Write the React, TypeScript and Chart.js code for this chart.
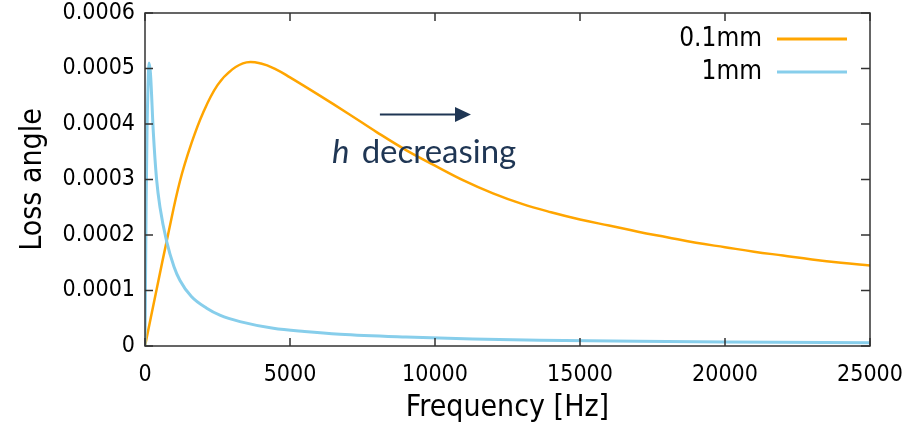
import { useEffect, useRef } from 'react';
import { Chart, registerables } from 'chart.js';

Chart.register(...registerables);

// ---- data ----
const seriesLabels = ['0.1mm', '1mm'];
const seriesColors = ['#FFA500', '#87CEEB'];

// 0.1mm
const freqThin = [0, 400, 800, 1200, 1600, 2000, 2500, 3000, 3500, 4000, 4500, 5000, 6000, 7000, 8000, 9000, 10000, 11000, 12000, 13000, 14000, 15000, 16000, 17000, 18000, 19000, 20000, 21000, 22000, 23000, 24000, 25000];
const lossThin = [0, 1.02e-4, 2.02e-4, 2.96e-4, 3.65e-4, 4.2e-4, 4.7e-4, 4.98e-4, 5.11e-4, 5.09e-4, 4.99e-4, 4.84e-4, 4.52e-4, 4.19e-4, 3.85e-4, 3.53e-4, 3.25e-4, 2.98e-4, 2.75e-4, 2.56e-4, 2.41e-4, 2.28e-4, 2.17e-4, 2.06e-4, 1.96e-4, 1.86e-4, 1.78e-4, 1.7e-4, 1.63e-4, 1.56e-4, 1.5e-4, 1.45e-4];

// 1mm
const freqThick = [0, 15, 40, 70, 100, 140, 190, 287, 400, 517, 748, 1000, 1207, 1600, 2128, 2600, 3276, 4425, 5500, 6724, 9000, 11300, 13600, 17000, 20000, 25000];
const lossThick = [0, 1.0e-4, 2.6e-4, 3.9e-4, 4.6e-4, 5.1e-4, 4.9e-4, 3.85e-4, 3.0e-4, 2.5e-4, 1.88e-4, 1.43e-4, 1.18e-4, 0.89e-4, 0.68e-4, 0.55e-4, 0.44e-4, 0.32e-4, 0.26e-4, 0.21e-4, 0.16e-4, 0.126e-4, 0.105e-4, 0.084e-4, 0.071e-4, 0.057e-4];

const xTickLabels = ['0', '5000', '10000', '15000', '20000', '25000'];
const yTickLabels = ['0', '0.0001', '0.0002', '0.0003', '0.0004', '0.0005', '0.0006'];

// annotation anchors (data coordinates)
const noteHFreq = 6450;
const noteWordFreq = 7470;
const noteLevel = 0.00033;
const arrowFromFreq = 8100;
const arrowBaseFreq = 10690;
const arrowTipFreq = 11240;
const arrowLevel = 0.000417;

const tickFamily = "'DejaVu Sans Condensed', 'DejaVu Sans', sans-serif";

const framePlugin = {
  id: 'frame',
  afterDatasetsDraw(chart: any) {
    const { ctx, chartArea, scales } = chart;
    const { left, right, top, bottom } = chartArea;
    const x = scales.x;
    const y = scales.y;
    ctx.save();
    // frame
    ctx.strokeStyle = '#333333';
    ctx.lineWidth = 1.5;
    ctx.strokeRect(left, top, right - left, bottom - top);
    ctx.beginPath();
    x.ticks.forEach((t: any) => {
      const px = x.getPixelForValue(t.value);
      ctx.moveTo(px, bottom);
      ctx.lineTo(px, bottom - 8);
      ctx.moveTo(px, top);
      ctx.lineTo(px, top + 8);
    });
    y.ticks.forEach((t: any) => {
      const py = y.getPixelForValue(t.value);
      ctx.moveTo(left, py);
      ctx.lineTo(left + 8, py);
      ctx.moveTo(right, py);
      ctx.lineTo(right - 9, py);
    });
    ctx.stroke();

    // legend
    ctx.font = `26px ${tickFamily}`;
    ctx.textAlign = 'right';
    ctx.textBaseline = 'middle';
    chart.data.datasets.forEach((ds: any, i: number) => {
      const ly = top + 26 + i * 33;
      ctx.fillStyle = '#000000';
      ctx.fillText(ds.label, right - 108, ly);
      ctx.strokeStyle = ds.borderColor;
      ctx.lineWidth = 3;
      ctx.beginPath();
      ctx.moveTo(right - 93, ly);
      ctx.lineTo(right - 23, ly);
      ctx.stroke();
    });

    // annotation
    const navy = '#1F3654';
    ctx.fillStyle = navy;
    ctx.strokeStyle = navy;
    ctx.textAlign = 'left';
    ctx.textBaseline = 'alphabetic';
    const by = y.getPixelForValue(noteLevel);
    ctx.font = 'italic 33px Lato';
    ctx.fillText('h', x.getPixelForValue(noteHFreq), by);
    ctx.font = '33px Lato';
    ctx.fillText('decreasing', x.getPixelForValue(noteWordFreq), by);

    const ay = y.getPixelForValue(arrowLevel);
    const ax0 = x.getPixelForValue(arrowFromFreq);
    const axb = x.getPixelForValue(arrowBaseFreq);
    const axt = x.getPixelForValue(arrowTipFreq);
    ctx.lineWidth = 2;
    ctx.beginPath();
    ctx.moveTo(ax0, ay);
    ctx.lineTo(axb + 2, ay);
    ctx.stroke();
    ctx.beginPath();
    ctx.moveTo(axt, ay);
    ctx.lineTo(axb, ay - 7.5);
    ctx.lineTo(axb, ay + 7.5);
    ctx.closePath();
    ctx.fill();
    ctx.restore();
  },
};

export default function App() {
  const canvasRef = useRef<HTMLCanvasElement | null>(null);

  useEffect(() => {
    if (!canvasRef.current) return;
    const chart = new Chart(canvasRef.current, {
      type: 'scatter',
      data: {
        datasets: [
          {
            label: seriesLabels[0],
            data: freqThin.map((f, i) => ({ x: f, y: lossThin[i] })),
            borderColor: seriesColors[0],
            backgroundColor: seriesColors[0],
            borderWidth: 2.5,
            showLine: true,
            pointRadius: 0,
            tension: 0.4,
            order: 1,
          },
          {
            label: seriesLabels[1],
            data: freqThick.map((f, i) => ({ x: f, y: lossThick[i] })),
            borderColor: seriesColors[1],
            backgroundColor: seriesColors[1],
            borderWidth: 3,
            showLine: true,
            pointRadius: 0,
            cubicInterpolationMode: 'monotone',
            order: 0,
          },
        ],
      },
      options: {
        animation: false,
        responsive: true,
        maintainAspectRatio: false,
        layout: {
          autoPadding: false,
          padding: { left: 0, top: 13, right: 36, bottom: 0 },
        },
        plugins: {
          legend: { display: false },
          tooltip: { enabled: false },
        },
        scales: {
          x: {
            type: 'linear',
            min: 0,
            max: 25000,
            grid: { display: false, drawTicks: false },
            border: { display: false },
            afterFit: (s: any) => {
              s.height = 80;
              s.paddingLeft = 0;
              s.paddingRight = 0;
              s.paddingTop = 0;
              s.paddingBottom = 0;
            },
            ticks: {
              stepSize: 5000,
              padding: 15,
              maxRotation: 0,
              autoSkip: false,
              color: '#000000',
              font: { family: tickFamily, size: 23 },
              callback: (_v: any, i: number) => xTickLabels[i],
            },
            title: {
              display: true,
              text: 'Frequency [Hz]',
              color: '#000000',
              font: { family: tickFamily, size: 30 },
              padding: { top: 0, bottom: 0 },
            },
          },
          y: {
            type: 'linear',
            min: 0,
            max: 0.0006,
            grid: { display: false, drawTicks: false },
            border: { display: false },
            afterFit: (s: any) => {
              s.width = 145;
              s.paddingLeft = 0;
              s.paddingRight = 0;
              s.paddingTop = 0;
              s.paddingBottom = 0;
            },
            ticks: {
              stepSize: 0.0001,
              padding: 10,
              autoSkip: false,
              color: '#000000',
              font: { family: tickFamily, size: 23 },
              callback: (_v: any, i: number) => yTickLabels[i],
            },
            title: {
              display: true,
              text: 'Loss angle',
              color: '#000000',
              font: { family: tickFamily, size: 30 },
              padding: { top: 15, bottom: 0 },
            },
          },
        },
      },
      plugins: [framePlugin],
    });
    return () => chart.destroy();
  }, []);

  return (
    <div style={{ position: 'absolute', left: 0, top: 0, width: 906, height: 426, background: '#ffffff' }}>
      <canvas ref={canvasRef} />
    </div>
  );
}
